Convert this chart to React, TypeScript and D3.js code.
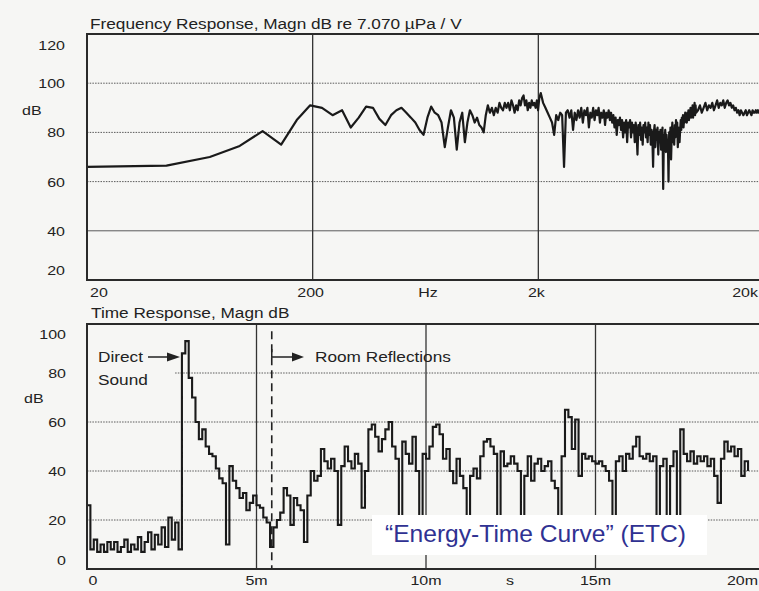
import React, { useEffect, useRef } from "react";
import * as d3 from "d3";

const W = 759;
const H = 591;

// Frequency response, FFT bins (Hz start / step) and magnitude in dB
const lowStartHz = 20;
const lowStepHz = 25;
const lowDb = [
  66, 66.5, 70, 74.5, 80.5, 75, 85, 91, 90, 87,
  89, 82, 86, 90.5, 90, 85.5, 83, 87, 89, 90,
  88, 86, 84, 81, 79, 86, 90.5, 88, 87, 84,
  74, 82, 89, 86, 73, 84, 88, 76, 84, 89,
  87, 84, 86, 83, 82, 80, 87, 91, 88, 90,
  87, 90, 88, 92, 90, 89, 92, 90, 92, 89,
  93, 91, 88, 91, 89, 93, 91, 94, 95, 91,
  93, 89, 92, 90, 93, 91, 92, 90, 93, 89,
  94,
];
const midStartHz = 2050;
const midStepHz = 50;
const midDb = [
  96, 92, 90, 88, 86, 84, 79, 87, 85, 88, 87, 66, 88, 89, 86, 89, 81, 88, 85, 89,
  86, 90, 84, 89, 87, 90, 82, 88, 86, 90,
  85, 89, 87, 90, 84, 88, 86, 89, 83, 88,
  86, 89, 85, 88, 84, 87, 82, 86, 79, 85,
  83, 86, 81, 85, 78, 84, 80, 85, 76, 84,
  82, 85, 78, 84, 80, 83, 76, 84, 80, 71,
  83, 79, 84, 77, 82, 75, 83, 80, 84, 78,
  82, 76, 84, 79, 83, 75, 81, 78, 66, 80,
  83, 74, 81, 77, 82, 71, 80, 76, 81, 73,
  78, 82, 57, 79, 74, 81, 72, 79, 75, 77,
  60, 80, 74, 82, 69, 79, 84, 76, 81, 75,
  83, 78, 85, 80, 84, 74, 82, 78, 76, 81,
  85, 81, 86, 83, 87, 82, 86, 84, 88, 85,
  87, 84, 88, 86, 89, 85, 88, 87, 90, 86,
  89, 87, 91, 86, 90, 88, 92, 87, 91, 88,
];
const topStartHz = 10200;
const topStepHz = 200;
const topDb = [
  89, 91, 88, 90, 92, 89, 91, 90, 92, 89,
  91, 93, 90, 92, 91, 93, 90, 92, 93, 91,
  92, 90, 91, 89, 90, 88, 89, 87, 89, 88,
  87, 88, 89, 87, 88, 89, 88, 87, 89, 88,
  88, 89, 88, 89, 88, 89, 88, 89, 88, 89,
];

const freqTicks = [20, 200, 2000, 20000];
const freqTickLabels = ["20", "200", "2k", "20k"];
const freqDbTicks = [20, 40, 60, 80, 100, 120];

// Energy-time curve, one sample every 0.1 ms
const etcStepMs = 0.1;
const etcDb = [
  26, 8, 12, 7, 10, 7, 11, 8, 11, 7,
  9, 12, 7, 10, 8, 13, 7, 11, 15, 8,
  14, 10, 17, 9, 21, 12, 19, 8, 88, 93,
  78, 70, 60, 53, 57, 50, 47, 46, 41, 37,
  35, 10, 42, 36, 33, 29, 31, 24, 27, 30,
  26, 25, 21, 19, 9, 17, 20, 23, 33, 30,
  18, 29, 26, 24, 11, 30, 40, 36, 38, 49,
  44, 41, 45, 40, 18, 42, 50, 44, 41, 47,
  43, 25, 40, 57, 59, 54, 48, 53, 57, 60,
  50, 45, 15, 52, 47, 43, 54, 40, 18, 47,
  45, 50, 58, 59, 55, 45, 49, 40, 35, 45,
  38, 33, 12, 38, 41, 37, 46, 52, 53, 50,
  47, 16, 48, 42, 43, 46, 43, 40, 10, 38,
  46, 36, 43, 45, 40, 42, 44, 36, 33, 14,
  46, 65, 62, 49, 61, 38, 47, 45, 46, 44,
  43, 44, 42, 40, 36, 17, 44, 46, 40, 47,
  45, 50, 54, 46, 45, 47, 44, 46, 20, 42,
  45, 13, 42, 48, 12, 57, 47, 44, 48, 43,
  46, 44, 46, 42, 45, 38, 27, 45, 52, 48,
  50, 46, 49, 38, 44, 40,
];
const timeTicks = [0, 5, 10, 15, 20];
const timeTickLabels = ["0", "5m", "10m", "15m", "20m"];
const timeDbTicks = [0, 20, 40, 60, 80, 100];
const reflectionStartMs = 5.45;

const FONT = "'Liberation Sans', Arial, sans-serif";
const INK = "#1a1a1a";
const SX = 1.23; // the scan is stretched sideways

const bins = (start: number, step: number, vals: number[]) =>
  vals.map((db, i) => ({ f: start + step * i, db }));

export default function App() {
  const ref = useRef<SVGSVGElement>(null);

  useEffect(() => {
    const svg = d3.select(ref.current);
    svg.selectAll("*").remove();

    const label = (
      x: number,
      y: number,
      txt: string,
      anchor = "start",
      size = 13,
      sx = SX,
      fill = "#222"
    ) =>
      svg
        .append("text")
        .attr("transform", `translate(${x},${y}) scale(${sx},1)`)
        .attr("text-anchor", anchor)
        .attr("font-family", FONT)
        .attr("font-size", size)
        .attr("fill", fill)
        .text(txt);

    svg.append("rect").attr("width", W).attr("height", H).attr("fill", "#f6f6f4");

    // ---------- frequency response ----------
    const xF = d3.scaleLog().domain([20, 20000]).range([87, 764]);
    const yF = d3.scaleLinear().domain([20, 120]).range([280, 34]);

    const fg = svg.append("g");
    fg.selectAll("line.hg")
      .data(freqDbTicks.filter((d) => d > 20 && d < 120))
      .join("line")
      .attr("x1", xF(20))
      .attr("x2", xF(20000))
      .attr("y1", (d) => yF(d))
      .attr("y2", (d) => yF(d))
      .attr("stroke", "#5a5a5a")
      .attr("stroke-width", 1)
      .attr("stroke-dasharray", (d) => (d === 40 ? null : "1.5,1.2"));
    fg.selectAll("line.vg")
      .data([200, 2000])
      .join("line")
      .attr("x1", (d) => xF(d))
      .attr("x2", (d) => xF(d))
      .attr("y1", yF(120))
      .attr("y2", yF(20))
      .attr("stroke", "#333")
      .attr("stroke-width", 1.3);

    svg
      .append("clipPath")
      .attr("id", "clipF")
      .append("rect")
      .attr("x", xF(20))
      .attr("y", yF(120))
      .attr("width", xF(20000) - xF(20))
      .attr("height", yF(20) - yF(120));

    const respPts = [
      ...bins(lowStartHz, lowStepHz, lowDb),
      ...bins(midStartHz, midStepHz, midDb),
      ...bins(topStartHz, topStepHz, topDb),
    ];
    const fLine = d3
      .line<{ f: number; db: number }>()
      .x((d) => xF(d.f))
      .y((d) => yF(d.db));
    fg.append("path")
      .attr("d", fLine(respPts))
      .attr("clip-path", "url(#clipF)")
      .attr("fill", "none")
      .attr("stroke", INK)
      .attr("stroke-width", 2.2)
      .attr("stroke-linejoin", "round");

    fg.append("rect")
      .attr("x", xF(20))
      .attr("y", yF(120))
      .attr("width", xF(20000) - xF(20))
      .attr("height", yF(20) - yF(120))
      .attr("fill", "none")
      .attr("stroke", "#2a2a2a")
      .attr("stroke-width", 2);

    label(90, 29, "Frequency Response, Magn dB re 7.070 µPa / V", "start", 14);
    freqDbTicks.forEach((v) => {
      const off = v === 120 ? 16 : v === 20 ? -5 : 5;
      label(65, yF(v) + off, String(v), "end");
    });
    label(22, 115, "dB");
    freqTicks.forEach((v, i) => {
      const anchor = i === 0 ? "start" : i === freqTicks.length - 1 ? "end" : "middle";
      const x = i === 0 ? xF(v) + 3 : i === freqTicks.length - 1 ? xF(v) - 6 : xF(v) - 2;
      label(x, 297, freqTickLabels[i], anchor);
    });
    label(428, 297, "Hz", "middle");

    // ---------- time response ----------
    const xT = d3.scaleLinear().domain([0, 20]).range([87, 765]);
    const yT = d3.scaleLinear().domain([0, 100]).range([569, 324]);

    const tg = svg.append("g");
    tg.selectAll("line.hg")
      .data(timeDbTicks.filter((d) => d > 0 && d < 100))
      .join("line")
      .attr("x1", (d) => (d === 80 ? xT(2.6) : xT(0)))
      .attr("x2", xT(20))
      .attr("y1", (d) => yT(d))
      .attr("y2", (d) => yT(d))
      .attr("stroke", "#5a5a5a")
      .attr("stroke-width", 1)
      .attr("stroke-dasharray", "1.5,1.2");
    tg.selectAll("line.vg")
      .data([5, 10, 15])
      .join("line")
      .attr("x1", (d) => xT(d))
      .attr("x2", (d) => xT(d))
      .attr("y1", yT(100))
      .attr("y2", yT(0))
      .attr("stroke", "#333")
      .attr("stroke-width", 1.3);

    svg
      .append("clipPath")
      .attr("id", "clipT")
      .append("rect")
      .attr("x", xT(0))
      .attr("y", yT(100))
      .attr("width", xT(20) - xT(0))
      .attr("height", yT(0) - yT(100));

    const tLine = d3
      .line<number>()
      .x((_, i) => xT(i * etcStepMs))
      .y((d) => yT(d))
      .curve(d3.curveStepAfter);
    tg.append("path")
      .attr("d", tLine(etcDb))
      .attr("clip-path", "url(#clipT)")
      .attr("fill", "none")
      .attr("stroke", INK)
      .attr("stroke-width", 2.1);

    // reflections boundary
    tg.append("line")
      .attr("x1", xT(reflectionStartMs))
      .attr("x2", xT(reflectionStartMs))
      .attr("y1", yT(97))
      .attr("y2", yT(0))
      .attr("stroke", "#222")
      .attr("stroke-width", 1.6)
      .attr("stroke-dasharray", "8,5");

    tg.append("rect")
      .attr("x", xT(0))
      .attr("y", yT(100))
      .attr("width", xT(20) - xT(0))
      .attr("height", yT(0) - yT(100))
      .attr("fill", "none")
      .attr("stroke", "#2a2a2a")
      .attr("stroke-width", 2);

    // arrows
    const rx = xT(reflectionStartMs);
    tg.append("path")
      .attr("d", `M${rx},349V357H294`)
      .attr("fill", "none")
      .attr("stroke", "#222")
      .attr("stroke-width", 1.5);
    tg.append("path").attr("d", "M292,352.5L304,357L292,361.5Z").attr("fill", "#222");
    tg.append("path")
      .attr("d", "M148,357H170")
      .attr("stroke", "#222")
      .attr("stroke-width", 1.5);
    tg.append("path").attr("d", "M167,352.5L180,357L167,361.5Z").attr("fill", "#222");

    label(98, 362, "Direct", "start", 14);
    label(98, 385, "Sound", "start", 14);
    label(315, 362, "Room Reflections", "start", 14);

    label(91, 318, "Time Response, Magn dB", "start", 14);
    timeDbTicks.forEach((v) => {
      const off = v === 100 ? 15 : v === 0 ? -4 : 5;
      label(66, yT(v) + off, String(v), "end");
    });
    label(24, 403, "dB");
    timeTicks.forEach((v, i) => {
      const last = i === timeTicks.length - 1;
      const x = i === 0 ? xT(v) + 6 : last ? 758 : xT(v);
      label(x, 585, timeTickLabels[i], last ? "end" : "middle");
    });
    label(510, 585, "s", "middle");

    // overlay caption
    svg
      .append("rect")
      .attr("x", 372)
      .attr("y", 515)
      .attr("width", 335)
      .attr("height", 40)
      .attr("fill", "#ffffff");
    label(385, 542, "\u201CEnergy-Time Curve\u201D (ETC)", "start", 23, 1.07, "#2f3192");
  }, []);

  return (
    <svg
      ref={ref}
      width={W}
      height={H}
      style={{ position: "absolute", left: 0, top: 0 }}
    />
  );
}
